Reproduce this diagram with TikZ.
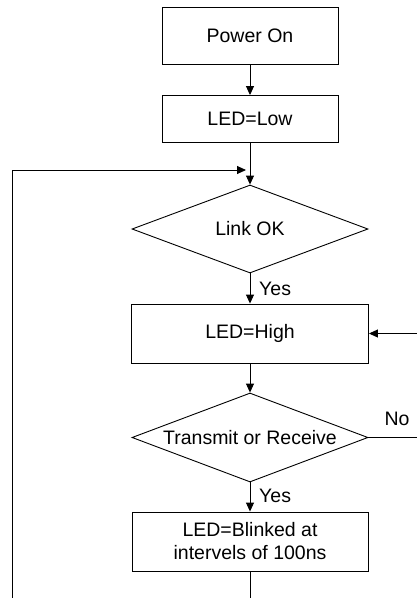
\documentclass[tikz,border=0pt]{standalone}
\usepackage{fontspec}
\setmainfont{Liberation Sans}
\usetikzlibrary{shapes.geometric,arrows.meta}
\begin{document}
\begin{tikzpicture}[x=1pt,y=-1pt,
  every node/.style={font=\fontsize{19.5}{23}\selectfont},
  box/.style={draw, line width=0.9pt, rectangle, inner sep=0pt, align=center},
  dia/.style={draw, line width=0.9pt, diamond, inner sep=0pt, aspect=2.65},
  line/.style={line width=0.9pt},
  arr/.style={line width=0.9pt, -{Triangle[length=9pt,width=8pt]}},
  lbl/.style={inner sep=0pt}]
\useasboundingbox (0,0) rectangle (417,598);
\node[box, minimum width=176, minimum height=57] (power) at (250,36) {Power On};
\node[box, minimum width=176, minimum height=47] (low) at (250,119) {LED=Low};
\node[dia, minimum width=236, minimum height=88] (link) at (250,229) {Link OK};
\node[box, minimum width=237, minimum height=59] (high) at (250,333.5) {LED=High};
\node[dia, minimum width=236, minimum height=89] (trans) at (250,437.5) {Transmit or Receive};
\node[box, minimum width=236, minimum height=59] (blink) at (250,541.5) {LED=Blinked at\\intervels of 100ns};
\node[lbl, anchor=west] (yes1) at (259,289) {Yes};
\node[lbl, anchor=west] (yes2) at (259,496) {Yes};
\node[lbl] (no) at (397,419) {No};
\coordinate (join) at (250,170);
\coordinate (lb) at (12,598);
\coordinate (bb) at (250,598);
\coordinate (re) at (417,437.5);
\coordinate (rin) at (417,333.5);
\draw[arr] (power) -- (low);
\draw[arr] (low) -- (link);
\draw[arr, shorten >=4pt] (lb) |- (join);
\draw[arr] (link) -- (high);
\draw[arr] (high) -- (trans);
\draw[arr] (trans) -- (blink);
\draw[line] (blink) -- (bb);
\draw[line] (trans.east) -- (re);
\draw[arr] (rin) -- (high.east);
\end{tikzpicture}
\end{document}
